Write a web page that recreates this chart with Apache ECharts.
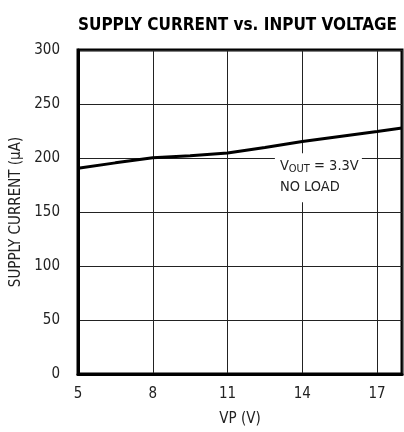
<!DOCTYPE html>
<html>
<head>
<meta charset="utf-8">
<script src="https://cdn.jsdelivr.net/npm/echarts@6/dist/echarts.min.js"></script>
<style>html,body{margin:0;padding:0;background:#fff}#c{width:404px;height:432px}</style>
</head>
<body>
<div id="c"></div>
<script>
const title = 'SUPPLY CURRENT vs. INPUT VOLTAGE';
const xName = 'VP (V)';
const yName = 'SUPPLY CURRENT (\u00b5A)';
const vp = [5, 6.5, 8, 9.5, 11, 12.5, 14, 15.5, 17, 18];
const supplyCurrent = [190.5, 195.5, 200.3, 202, 204.6, 209.8, 215.2, 220, 224.6, 227.8];
const xTicks = [5, 8, 11, 14, 17];
const yTicks = [0, 50, 100, 150, 200, 250, 300];
const noteAnchor = [12.9, 204.5];

const FONT = '"DejaVu Sans Condensed", "Liberation Sans", sans-serif';
const chart = echarts.init(document.getElementById('c'), null, {renderer: 'canvas'});
const option = {
  animation: false,
  backgroundColor: '#fff',
  title: {
    text: title, right: 2, top: 12,
    textStyle: {fontFamily: FONT, fontWeight: 'bold', fontSize: 17, color: '#000'}
  },
  grid: {left: 78, right: 2, top: 50, bottom: 58, containLabel: false, outerBoundsMode: 'none',
    show: true, borderColor: '#000', borderWidth: 3, backgroundColor: 'transparent'},
  xAxis: {
    type: 'value', min: 5, max: 18, interval: 3,
    name: xName, nameLocation: 'middle', nameGap: 38,
    nameTextStyle: {fontFamily: FONT, fontSize: 15, color: '#222'},
    axisLine: {show: true, lineStyle: {color: '#000', width: 3}},
    axisTick: {show: false},
    axisLabel: {fontFamily: FONT, fontSize: 15, color: '#222', margin: 13,
      formatter: v => xTicks.includes(v) ? String(v) : ''},
    splitLine: {show: true, lineStyle: {color: '#222', width: 1}}
  },
  yAxis: {
    type: 'value', min: 0, max: 300, interval: 50,
    name: yName, nameLocation: 'middle', nameGap: 51,
    nameTextStyle: {fontFamily: FONT, fontSize: 15, color: '#222'},
    axisLine: {show: true, lineStyle: {color: '#000', width: 3}},
    axisTick: {show: false},
    axisLabel: {fontFamily: FONT, fontSize: 15, color: '#222', margin: 18,
      formatter: v => yTicks.includes(v) ? String(v) : ''},
    splitLine: {show: true, lineStyle: {color: '#222', width: 1}}
  },
  series: [{
    type: 'line', data: vp.map((x, i) => [x, supplyCurrent[i]]),
    showSymbol: false, smooth: false,
    lineStyle: {color: '#000', width: 3}, z: 5
  }]
};
chart.setOption(option);
const p = chart.convertToPixel({gridIndex: 0}, noteAnchor);
chart.setOption({
  graphic: [{
    type: 'rect', left: p[0], top: p[1], z: 10,
    shape: {width: 87, height: 49}, style: {fill: '#fff'}
  }, {
    type: 'text', left: p[0] + 5, top: p[1] + 4, z: 11,
    style: {
      text: '{v|V}{sub|OUT}{v| = 3.3V}\n{v|NO LOAD}',
      rich: {
        v: {fontFamily: FONT, fontSize: 14.5, lineHeight: 21, fill: '#222'},
        sub: {fontFamily: FONT, fontSize: 11, lineHeight: 21, fill: '#222', padding: [7, 0, 0, 0]}
      }
    }
  }]
});
</script>
</body>
</html>
